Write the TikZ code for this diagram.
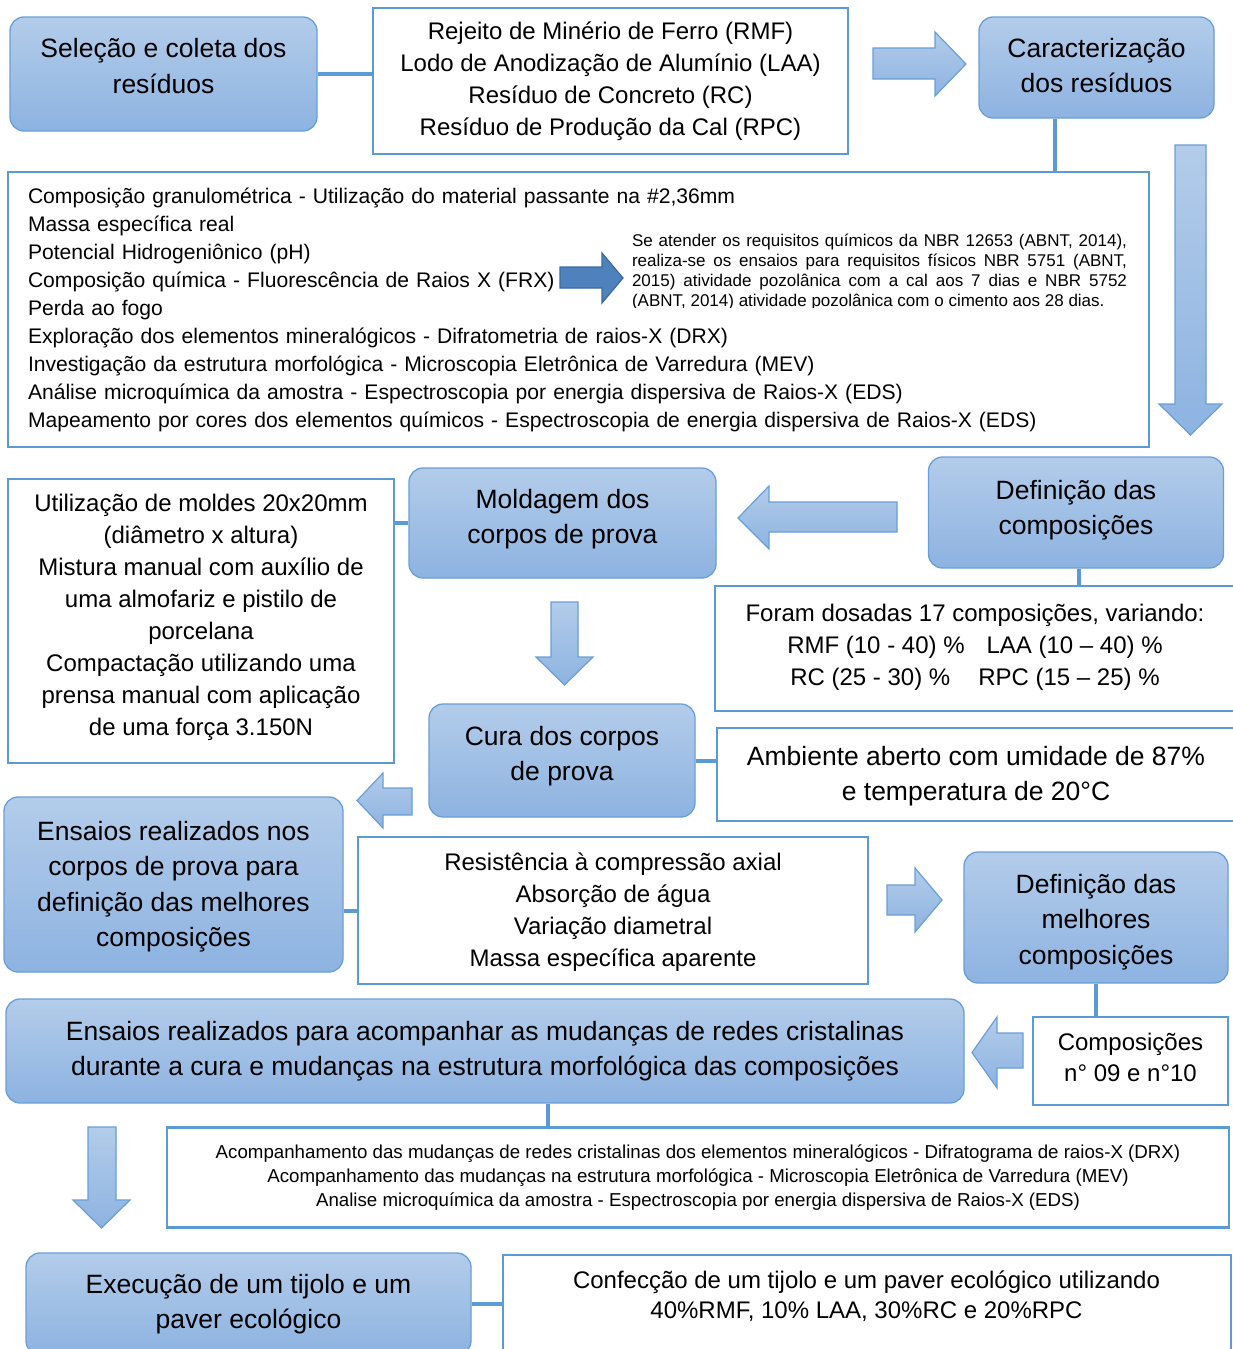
\documentclass[tikz,border=0pt]{standalone}
\usepackage{fontspec}
\setmainfont{Liberation Sans}
\definecolor{btop}{HTML}{B3CCEA}
\definecolor{bbot}{HTML}{8DB3E1}
\definecolor{bborder}{HTML}{6A9FD6}
\definecolor{wborder}{HTML}{5B9BD5}
\definecolor{darkfill}{HTML}{4F81BD}
\definecolor{darkline}{HTML}{3A6A9E}
\tikzset{
  bbox/.style={rounded corners=14pt, draw=bborder, line width=1.3pt, top color=btop, bottom color=bbot, align=center, inner sep=0pt, font=\fontsize{26.5}{35.5}\selectfont},
  wbox/.style={draw=wborder, line width=2.6pt, fill=white, align=center, inner sep=0pt, font=\fontsize{24}{32}\selectfont},
  btxt/.style={align=center, inner sep=0pt, font=\fontsize{26.5}{35.5}\selectfont},
  wtxt/.style={align=center, inner sep=0pt, font=\fontsize{24}{32}\selectfont},
  conn/.style={draw=wborder, line width=4pt},
  barrow/.style={draw=bborder, line width=1.2pt, top color=btop, bottom color=bbot, line join=miter},
  darrow/.style={draw=darkline, line width=1.2pt, fill=darkfill, line join=miter},
}
\begin{document}
\begin{tikzpicture}[x=1pt,y=-1pt]
\useasboundingbox[fill=white] (0,0) rectangle (1233,1349);

% row 1
\node[bbox, minimum width=307pt, minimum height=114pt] (sel) at (163.5,74) {};
\node[btxt] (selT) at ([yshift=8pt]sel.center) {Seleção e coleta dos\\resíduos};
\node[wbox, minimum width=475pt, minimum height=146pt] (rmf) at (610.5,81) {Rejeito de Minério de Ferro (RMF)\\Lodo de Anodização de Alumínio (LAA)\\Resíduo de Concreto (RC)\\Resíduo de Produção da Cal (RPC)};
\node[bbox, minimum width=235pt, minimum height=101pt] (car) at (1096.5,67.5) {};
\node[btxt] (carT) at ([yshift=2pt]car.center) {Caracterização\\dos resíduos};
\path[barrow] (873,48) -- (935,48) -- (935,32) -- (966,64) -- (935,96) -- (935,79) -- (873,79) -- cycle;

% big characterisation box
\node[wbox, minimum width=1141pt, minimum height=275pt, align=left, text width=1101pt, font=\fontsize{21.1}{28}\selectfont] (big) at (578.5,309.5) {Composição granulométrica - Utilização do material passante na \#2,36mm\\
Massa específica real\\
Potencial Hidrogeniônico (pH)\\
Composição química - Fluorescência de Raios X (FRX)\\
Perda ao fogo\\
Exploração dos elementos mineralógicos - Difratometria de raios-X (DRX)\\
Investigação da estrutura morfológica - Microscopia Eletrônica de Varredura (MEV)\\
Análise microquímica da amostra - Espectroscopia por energia dispersiva de Raios-X (EDS)\\
Mapeamento por cores dos elementos químicos - Espectroscopia de energia dispersiva de Raios-X (EDS)};
\path[darrow] (560,267) -- (602,267) -- (602,253) -- (623,278) -- (602,303) -- (602,288) -- (560,288) -- cycle;
\begin{scope}
\clip (620,228) rectangle (1140,307.5);
\node[font=\fontsize{17}{20}\selectfont, text width=495pt, align=justify, inner sep=0pt] (par) at (879.5,272.5) {Se atender os requisitos químicos da NBR 12653 (ABNT, 2014),\linebreak realiza-se os ensaios para requisitos físicos NBR 5751 (ABNT,\linebreak 2015) atividade pozolânica com a cal aos 7 dias e NBR 5752\linebreak (ABNT, 2014) atividade pozolânica com o cimento aos 28 dias.};
\end{scope}
\path[barrow] (1175,145) -- (1206,145) -- (1206,404) -- (1222,404) -- (1190.5,435) -- (1159,404) -- (1175,404) -- cycle;

% row: definicao / moldagem
\node[bbox, minimum width=295pt, minimum height=111pt] (def) at (1076,512.5) {};
\node[btxt] (defT) at ([yshift=2.5pt]def.center) {Definição das\\composições};
\path[barrow] (897,502) -- (769,502) -- (769,486) -- (738,518) -- (769,549) -- (769,532) -- (897,532) -- cycle;
\node[bbox, minimum width=307pt, minimum height=110pt] (mold) at (562.5,523) {};
\node[btxt] (moldT) at ([yshift=4pt]mold.center) {Moldagem dos\\corpos de prova};
\node[wbox, minimum width=386pt, minimum height=284pt] (util) at (201,621) {};
\node[wtxt] (utilT) at ([yshift=4pt]util.center) {Utilização de moldes 20x20mm\\(diâmetro x altura)\\Mistura manual com auxílio de\\uma almofariz e pistilo de\\porcelana\\Compactação utilizando uma\\prensa manual com aplicação\\de uma força 3.150N};
\node[wbox, minimum width=520pt, minimum height=125pt] (foram) at (975,648.5) {};
\node[wtxt] (foramT) at ([yshift=1.5pt]foram.center) {Foram dosadas 17 composições, variando:\\RMF (10 - 40) \%\hspace{22pt}LAA (10 – 40) \%\\RC (25 - 30) \%\hspace{28pt}RPC (15 – 25) \%};
\path[barrow] (551,602) -- (578,602) -- (578,657) -- (593,657) -- (564.5,685) -- (536,657) -- (551,657) -- cycle;

% cura
\node[bbox, minimum width=266pt, minimum height=113pt] (cura) at (562,760.5) {};
\node[btxt] (curaT) at ([yshift=4.5pt]cura.center) {Cura dos corpos\\de prova};
\node[wbox, minimum width=518pt, minimum height=93pt] (amb) at (976,774.5) {};
\node[btxt, font=\fontsize{26.5}{35}\selectfont] (ambT) at ([yshift=-2pt]amb.center) {Ambiente aberto com umidade de 87\%\\e temperatura de 20°C};
\path[barrow] (412,788) -- (383,788) -- (383,773) -- (357,800.5) -- (383,828) -- (383,815) -- (412,815) -- cycle;

% ensaios
\node[bbox, minimum width=339pt, minimum height=175pt] (ens1) at (173.5,884.5) {};
\node[btxt] (ens1T) at ([yshift=-2pt]ens1.center) {Ensaios realizados nos\\corpos de prova para\\definição das melhores\\composições};
\node[wbox, minimum width=510pt, minimum height=147pt] (res) at (613,910.5) {};
\node[wtxt] (resT) at ([yshift=-1.5pt]res.center) {Resistência à compressão axial\\Absorção de água\\Variação diametral\\Massa específica aparente};
\path[barrow] (887,885) -- (915,885) -- (915,868) -- (942,900) -- (915,932) -- (915,915) -- (887,915) -- cycle;
\node[bbox, minimum width=264pt, minimum height=131pt] (defm) at (1096,917.5) {};
\node[btxt] (defmT) at ([yshift=-4.5pt]defm.center) {Definição das\\melhores\\composições};

% acompanhamento
\node[wbox, minimum width=195pt, minimum height=88pt] (comp) at (1130.5,1061) {};
\node[wtxt, font=\fontsize{24}{31}\selectfont] (compT) at ([yshift=4pt]comp.center) {Composições\\n° 09 e n°10};
\node[bbox, minimum width=958pt, minimum height=104pt] (ens2) at (485,1051) {Ensaios realizados para acompanhar as mudanças de redes cristalinas\\durante a cura e mudanças na estrutura morfológica das composições};
\path[barrow] (1023,1033) -- (997,1033) -- (997,1017) -- (972,1052.5) -- (997,1088) -- (997,1068) -- (1023,1068) -- cycle;
\node[wbox, minimum width=1062pt, minimum height=100pt, font=\fontsize{18.7}{24}\selectfont] (acomp) at (698,1177.5) {Acompanhamento das mudanças de redes cristalinas dos elementos mineralógicos - Difratograma de raios-X (DRX)\\Acompanhamento das mudanças na estrutura morfológica - Microscopia Eletrônica de Varredura (MEV)\\Analise microquímica da amostra - Espectroscopia por energia dispersiva de Raios-X (EDS)};
\path[barrow] (88,1127) -- (116,1127) -- (116,1200) -- (130,1200) -- (101.5,1228) -- (73,1200) -- (88,1200) -- cycle;

% execucao
\node[bbox, minimum width=445pt, minimum height=102pt] (exec) at (248.5,1304) {Execução de um tijolo e um\\paver ecológico};
\node[wbox, minimum width=728pt, minimum height=110pt] (conf) at (867,1310) {};
\node[wtxt, font=\fontsize{24}{30}\selectfont] (confT) at (866.5,1296) {Confecção de um tijolo e um paver ecológico utilizando\\40\%RMF, 10\% LAA, 30\%RC e 20\%RPC};

% connectors
\draw[conn] (sel.east) -- (sel.east -| rmf.west);
\draw[conn] ([xshift=-41.5pt]car.south) -- ([xshift=-41.5pt]car.south |- big.north);
\draw[conn] (mold.west) -- (mold.west -| util.east);
\draw[conn] ([xshift=3pt]def.south) -- ([xshift=3pt]def.south |- foram.north);
\draw[conn] (cura.east) -- (cura.east -| amb.west);
\draw[conn] (res.west) -- (res.west -| ens1.east);
\draw[conn] (defm.south) -- (defm.south |- comp.north);
\draw[conn] ([xshift=63pt]ens2.south) -- ([xshift=63pt]ens2.south |- acomp.north);
\draw[conn] (exec.east) -- (exec.east -| conf.west);
\end{tikzpicture}
\end{document}
